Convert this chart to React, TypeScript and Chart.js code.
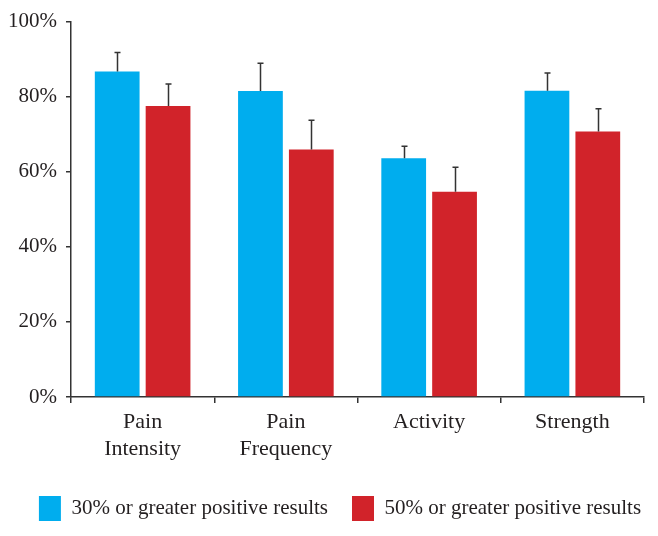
import React, { useEffect, useRef } from "react";
import { Chart, registerables } from "chart.js";

Chart.register(...registerables);

const categories: (string | string[])[] = [["Pain", "Intensity"], ["Pain", "Frequency"], "Activity", "Strength"];
const seriesLabels = ["30% or greater positive results", "50% or greater positive results"];
const values30 = [86.7, 81.5, 63.6, 81.6];
const values50 = [77.5, 65.9, 54.7, 70.7];
const errors30 = [5.1, 7.4, 3.2, 4.7];
const errors50 = [5.9, 7.8, 6.5, 6.1];
const yTicks = [0, 20, 40, 60, 80, 100];

const BLUE = "#00adee";
const RED = "#d1232a";
const DARK = "#231f20";
const FONT = "'Liberation Serif', 'DejaVu Serif', serif";

const errorBarPlugin = {
  id: "errorBars",
  afterDatasetsDraw(chart: any) {
    const ctx = chart.ctx;
    const yScale = chart.scales.y;
    const errs = [errors30, errors50];
    ctx.save();
    ctx.strokeStyle = "#333333";
    ctx.lineWidth = 1.5;
    chart.data.datasets.forEach((ds: any, di: number) => {
      const meta = chart.getDatasetMeta(di);
      meta.data.forEach((bar: any, i: number) => {
        const v = ds.data[i];
        const top = yScale.getPixelForValue(v + errs[di][i]);
        const x = Math.round(bar.x) + 0.5;
        ctx.beginPath();
        ctx.moveTo(x, bar.y);
        ctx.lineTo(x, top);
        ctx.moveTo(x - 3, top);
        ctx.lineTo(x + 3, top);
        ctx.stroke();
      });
    });
    ctx.restore();
  },
};

// keep the legend on one row and centre it like the reference
const legendShiftPlugin = {
  id: "legendShift",
  beforeLayout(chart: any) {
    const lg = chart.legend;
    if (lg && !lg.__oneRow) {
      lg.__oneRow = true;
      const orig = lg._fitRows;
      lg._fitRows = function (...args: any[]) {
        const mw = this.maxWidth;
        this.maxWidth = 10000;
        const r = orig.apply(this, args);
        this.maxWidth = mw;
        return r;
      };
    }
  },
  afterLayout(chart: any) {
    const lg = chart.legend;
    if (lg) {
      lg.left = -20;
      lg.right = 700;
    }
  },
};

export default function App() {
  const ref = useRef<HTMLCanvasElement | null>(null);
  useEffect(() => {
    if (!ref.current) return;
    const chart = new Chart(ref.current, {
      type: "bar",
      data: {
        labels: categories,
        datasets: [
          { label: seriesLabels[0], data: values30, backgroundColor: BLUE, borderWidth: 0 },
          { label: seriesLabels[1], data: values50, backgroundColor: RED, borderWidth: 0 },
        ],
      },
      plugins: [errorBarPlugin, legendShiftPlugin],
      options: {
        animation: false,
        responsive: false,
        maintainAspectRatio: false,
        datasets: { bar: { categoryPercentage: 0.71, barPercentage: 0.88 } },
        layout: { padding: { left: 0, right: 14, top: 20, bottom: 5 } },
        plugins: {
          tooltip: { enabled: false },
          legend: {
            position: "bottom",
            labels: {
              boxWidth: 22,
              boxHeight: 25,
              padding: 24,
              color: DARK,
              font: { family: FONT, size: 21 },
            },
          },
        },
        scales: {
          x: {
            grid: {
              display: true,
              drawOnChartArea: false,
              drawTicks: true,
              tickLength: 6,
              color: "#333333",
              lineWidth: 1.5,
              offset: true,
            },
            border: { display: true, color: "#333333", width: 1.5 },
            ticks: {
              color: DARK,
              padding: 5,
              font: { family: FONT, size: 22, lineHeight: 1.25 },
              maxRotation: 0,
              autoSkip: false,
            },
            afterFit(scale: any) {
              scale.height = 75;
            },
          },
          y: {
            min: 0,
            max: 100,
            afterBuildTicks(scale: any) {
              scale.ticks = yTicks.map((v) => ({ value: v }));
            },
            grid: {
              display: true,
              drawOnChartArea: false,
              drawTicks: true,
              tickLength: 5,
              color: "#333333",
              lineWidth: 1.5,
            },
            border: { display: true, color: "#333333", width: 1.5 },
            ticks: {
              color: DARK,
              padding: 9,
              font: { family: FONT, size: 21 },
              callback: (v: any) => v + "%",
            },
            afterFit(scale: any) {
              scale.width = 71;
            },
          },
        },
      },
    });
    return () => chart.destroy();
  }, []);
  return (
    <div style={{ position: "fixed", left: 0, top: 0, width: 658, height: 536, background: "#fff" }}>
      <canvas ref={ref} width={658} height={536} style={{ width: 658, height: 536, display: "block" }} />
    </div>
  );
}
